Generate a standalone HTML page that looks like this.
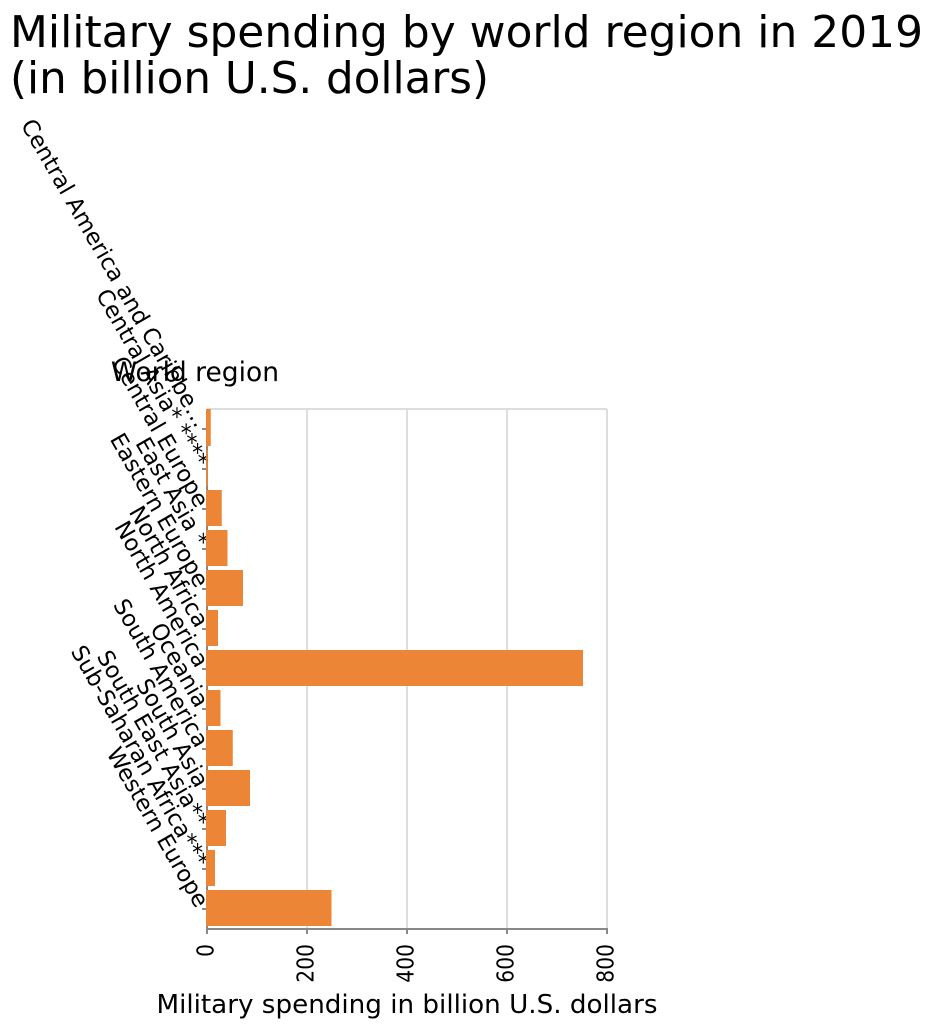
<!DOCTYPE html>
<html lang="en">
<head>
<meta charset="utf-8">
<title>Military spending by world region in 2019</title>
<style>
html,body{margin:0;padding:0;background:#fff}
svg{display:block;font-family:"DejaVu Sans","Liberation Sans",sans-serif}
</style>
</head>
<body>
<svg id="chart" xmlns="http://www.w3.org/2000/svg" width="936" height="1028" viewBox="0 0 936 1028">
<rect width="936" height="1028" fill="#fff"/>
<text x="10" y="47" font-size="44" textLength="913" lengthAdjust="spacingAndGlyphs">Military spending by world region in 2019</text>
<text x="10" y="93" font-size="44" textLength="479" lengthAdjust="spacingAndGlyphs">(in billion U.S. dollars)</text>
<g id="grid"></g>
<g id="axes"></g>
<g id="bars"></g>
<text x="279" y="381" font-size="26.5" text-anchor="end">World region</text>
<text x="407" y="1013" font-size="26.2" text-anchor="middle">Military spending in billion U.S. dollars</text>
</svg>
<script>
const categories = ["Central America and Caribbe…", "Central Asia* ****", "Central Europe", "East Asia *", "Eastern Europe", "North Africa", "North America", "Oceania", "South America", "South Asia", "South East Asia**", "Sub-Saharan Africa***", "Western Europe"];
const spending = [7.5, 1.5, 29.5, 41, 72, 22, 752, 27, 51.5, 86, 38, 16, 249];
const xTicks = [0, 200, 400, 600, 800];

const NS = "http://www.w3.org/2000/svg";
const plotLeft = 207, plotRight = 607, plotTop = 409, plotBottom = 929;
const xMax = xTicks[xTicks.length - 1];
const xScale = v => plotLeft + (v / xMax) * (plotRight - plotLeft);
const bandHeight = () => (plotBottom - plotTop) / categories.length;
const yBandTop = i => plotTop + i * bandHeight();

function make(tag, attrs, parent) {
  const el = document.createElementNS(NS, tag);
  for (const k in attrs) el.setAttribute(k, attrs[k]);
  parent.appendChild(el);
  return el;
}
const grid = document.getElementById("grid");
const bars = document.getElementById("bars");
const axes = document.getElementById("axes");

const topGrid = make("line", {x1: plotLeft, x2: plotRight, y1: plotTop, y2: plotTop, stroke: "#ddd", "stroke-width": 2}, grid);



xTicks.forEach(t => {
  if (t === 0) return;
  const x = xScale(t);
  const g = make("line", {x1: x, x2: x, y1: plotTop, y2: plotBottom, stroke: "#ddd", "stroke-width": 2}, grid);
  
  
});

const xDomain = make("line", {x1: plotLeft - 1, x2: plotRight + 1, y1: plotBottom, y2: plotBottom, stroke: "#888", "stroke-width": 2}, axes);


const yDomain = make("line", {x1: plotLeft, x2: plotLeft, y1: plotTop, y2: plotBottom, stroke: "#888", "stroke-width": 2}, axes);



xTicks.forEach(t => {
  const x = xScale(t);
  const tick = make("line", {x1: x, x2: x, y1: plotBottom, y2: plotBottom + 5, stroke: "#888", "stroke-width": 2}, axes);
  
  
  const label = make("text", {x: x + 6.5, y: 944, "font-size": 23, "text-anchor": "end", textLength: String(t).length * 12.9, lengthAdjust: "spacingAndGlyphs", transform: `rotate(-90 ${x + 6.5} 944)`}, axes);
  label.textContent = t;
  
  
});

categories.forEach((c, i) => {
  const top = yBandTop(i);
  const barTop = i === 0 ? top : top + 1;
  const barBottom = top + bandHeight() - 3;
  const bar = make("rect", {x: plotLeft - 1, y: barTop, width: xScale(spending[i]) - plotLeft + 1, height: barBottom - barTop, fill: "#ed8536"}, bars);
  
  
  const cy = top + bandHeight() / 2;
  const tick = make("line", {x1: plotLeft - 5, x2: plotLeft, y1: cy, y2: cy, stroke: "#888", "stroke-width": 2}, axes);
  
  
  const lx = plotLeft - 11, ly = cy + 0;
  const label = make("text", {x: lx, y: ly, "font-size": 22.7, "text-anchor": "end", transform: `rotate(60 ${lx} ${ly})`}, axes);
  label.textContent = c;
  
  
});
</script>
</body>
</html>
